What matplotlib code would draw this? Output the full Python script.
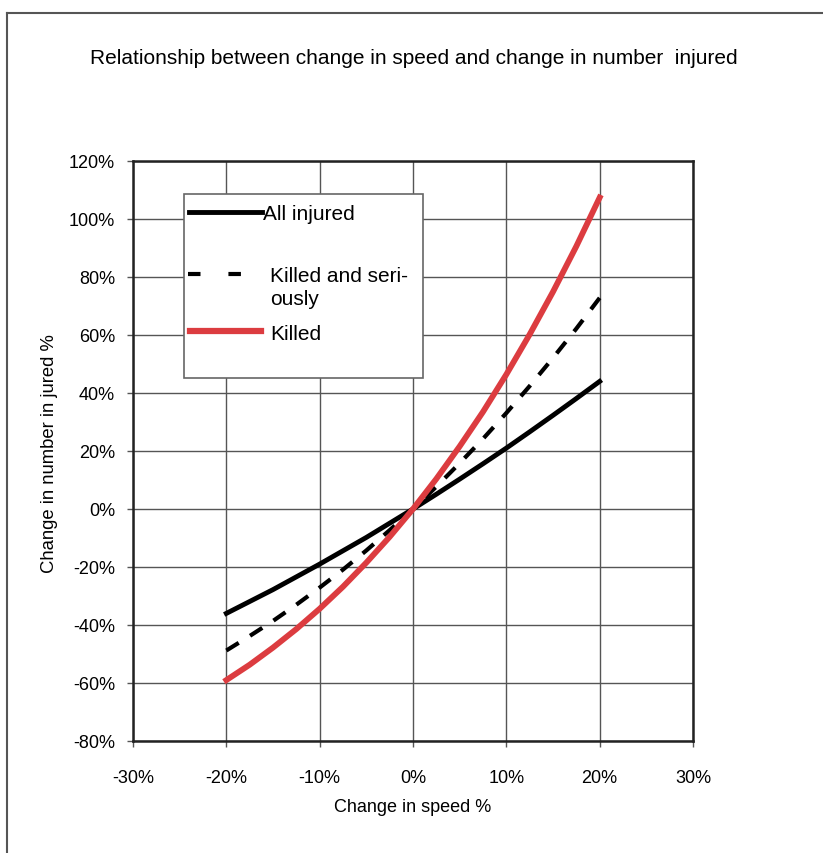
import matplotlib
matplotlib.use("Agg")
import matplotlib.pyplot as plt
from matplotlib.lines import Line2D
from matplotlib.patches import Rectangle

plt.rcParams['font.family'] = ['Liberation Sans', 'DejaVu Sans']

speed_change = [-20, -17.5, -15, -12.5, -10, -7.5, -5, -2.5, 0, 2.5, 5, 7.5, 10, 12.5, 15, 17.5, 20]
all_injured = [-36.0, -31.9, -27.8, -23.4, -19.0, -14.4, -9.8, -4.9, 0, 5.1, 10.3, 15.6, 21.0, 26.6, 32.3, 38.1, 44.0]
killed_serious = [-48.8, -43.8, -38.6, -33.0, -27.1, -20.9, -14.3, -7.3, 0, 7.7, 15.8, 24.2, 33.1, 42.4, 52.1, 62.2, 72.8]
killed = [-59.0, -53.7, -47.8, -41.4, -34.4, -26.8, -18.5, -9.6, 0, 10.4, 21.6, 33.5, 46.4, 60.2, 74.9, 90.6, 107.4]

x_ticks = [-30, -20, -10, 0, 10, 20, 30]
y_ticks = [-80, -60, -40, -20, 0, 20, 40, 60, 80, 100, 120]
x_tick_labels = [f"{v}%" for v in x_ticks]
y_tick_labels = [f"{v}%" for v in y_ticks]

title = "Relationship between change in speed and change in number  injured"
x_label = "Change in speed %"
y_label = "Change in number in jured %"
legend_labels = ["All injured", "Killed and seri-\nously", "Killed"]

W, H = 823, 854
fig = plt.figure(figsize=(W / 100, H / 100), dpi=100)
ax = fig.add_axes([133 / W, 1 - 742 / H, (693 - 133) / W, (742 - 162) / H])

red = "#dc3c40"
ax.plot(speed_change, all_injured, color="black", lw=3.5, zorder=3)
ax.plot(speed_change, killed_serious, color="black", lw=3.0, dashes=(3.5, 3.2), zorder=3)
ax.plot(speed_change, killed, color="black", lw=2.0, zorder=4)
ax.plot(speed_change, killed, color=red, lw=4.2, zorder=5)

ax.set_xlim(-30, 30)
ax.set_ylim(-80, 120)
ax.set_xticks(x_ticks)
ax.set_xticklabels(x_tick_labels)
ax.set_yticks(y_ticks)
ax.set_yticklabels(y_tick_labels)
ax.tick_params(axis="both", labelsize=13, length=4, width=1, color="#555555")
ax.tick_params(axis="x", pad=16)
ax.tick_params(axis="y", pad=9)
ax.grid(True, color="#555555", lw=1.0)
ax.set_axisbelow(True)
for s in ax.spines.values():
    s.set_color("#222222")
    s.set_linewidth(1.8)


def fx(px):
    return (px - 133) / (693 - 133)


def fy(py):
    return (742 - py) / (742 - 162)


ax.set_xlabel(x_label, fontsize=13)
ax.set_ylabel(y_label, fontsize=13.3)
ax.xaxis.set_label_coords(fx(413), fy(808))
ax.yaxis.set_label_coords(fx(50), fy(454))
ax.xaxis.label.set_va("center")
ax.yaxis.label.set_va("center")

fig.text(414 / W, 1 - 58 / H, title, ha="center", va="center", fontsize=15)

# legend box
ax.add_patch(Rectangle((fx(184), fy(379)), fx(423) - fx(184), fy(195) - fy(379),
                       transform=ax.transAxes, facecolor="white", edgecolor="#666666",
                       lw=1.2, zorder=6))
ax.add_line(Line2D([fx(189), fx(262)], [fy(213), fy(213)], transform=ax.transAxes,
                   color="black", lw=3.5, zorder=7))
ax.text(fx(263), fy(214), legend_labels[0], transform=ax.transAxes, fontsize=15,
        va="center", ha="left", zorder=7)
ax.add_line(Line2D([fx(188), fx(258)], [fy(275), fy(275)], transform=ax.transAxes,
                   color="black", lw=3.0, dashes=(3, 6.7), zorder=7))
ax.text(fx(270), fy(288), legend_labels[1], transform=ax.transAxes, fontsize=15,
        va="center", ha="left", linespacing=1.25, zorder=7)
ax.add_line(Line2D([fx(190), fx(261)], [fy(332), fy(332)], transform=ax.transAxes,
                   color=red, lw=4.5, zorder=7))
ax.text(fx(270), fy(335), legend_labels[2], transform=ax.transAxes, fontsize=15,
        va="center", ha="left", zorder=7)

# page frame
fig.add_artist(Line2D([7 / W, 7 / W], [0, 1 - 14 / H], color="#555555", lw=1.5))
fig.add_artist(Line2D([7 / W, 1], [1 - 14 / H, 1 - 14 / H], color="#555555", lw=1.5))

fig.savefig("out.png", dpi=100)
